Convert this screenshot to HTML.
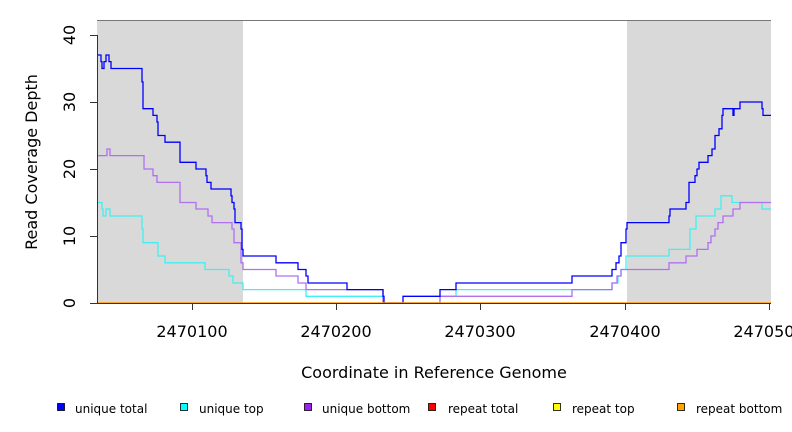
<!DOCTYPE html><html><head><style>body{margin:0;background:#fff}svg{display:block;font-family:"DejaVu Sans","Liberation Sans",sans-serif}</style></head><body>
<svg width="792" height="432" viewBox="0 0 792 432">
<rect x="97" y="20" width="146" height="283" fill="#d9d9d9"/>
<rect x="627" y="20" width="144" height="283" fill="#d9d9d9"/>
<line x1="97" y1="20.5" x2="771" y2="20.5" stroke="#777" stroke-width="1"/>
<g fill="none" stroke-width="1.3">
<polyline stroke="#40f0f0" points="97,202.5 102,202.5 102,209 103,209 103,216 106,216 106,209 110,209 110,216 142,216 142,229 143,229 143,242.7 158,242.7 158,256 165,256 165,262.8 205,262.8 205,269.5 229,269.5 229,276 233,276 233,283 243,283 243,289.6 306,289.6 306,296.3 383,296.3 383,303 440,303 440,296.3 456,296.3 456,289.6 612,289.6 612,283 618,283 618,276 621,276 621,269.5 626,269.5 626,256 669,256 669,249.4 690,249.4 690,229 696,229 696,216 715,216 715,209 721,209 721,195.8 732,195.8 732,202.5 762,202.5 762,209 771,209"/>
<polyline stroke="#b070f0" points="97,155.6 107,155.6 107,149 110,149 110,155.6 144,155.6 144,169 153,169 153,175.7 157,175.7 157,182.4 180,182.4 180,202.5 196,202.5 196,209 208,209 208,216 212,216 212,222.6 232,222.6 232,229 234,229 234,242.7 241,242.7 241,262.8 243,262.8 243,269.5 276,269.5 276,276 298,276 298,283 306,283 306,289.6 383,289.6 383,303 440,303 440,296.3 572,296.3 572,289.6 612,289.6 612,283 617,283 617,276 621,276 621,269.5 669,269.5 669,262.8 686,262.8 686,256 697,256 697,249.4 708,249.4 708,242.7 711,242.7 711,236 715,236 715,229 718,229 718,222.6 723,222.6 723,216 733,216 733,209 740,209 740,202.5 771,202.5"/>
<polyline stroke="#0000ff" points="97,55 101,55 101,61.6 102,61.6 102,68.5 104,68.5 104,61.6 106,61.6 106,55 109,55 109,61.6 111,61.6 111,68.5 142,68.5 142,81.9 143,81.9 143,108.7 153,108.7 153,115.4 157,115.4 157,122 158,122 158,135.5 165,135.5 165,142.2 180,142.2 180,162.3 196,162.3 196,169 206,169 206,175.7 207,175.7 207,182.4 211,182.4 211,189 231,189 231,195.8 232,195.8 232,202.5 234,202.5 234,209 235,209 235,222.6 241,222.6 241,229 242,229 242,249.4 243,249.4 243,256 276,256 276,262.8 298,262.8 298,269.5 306,269.5 306,276 308,276 308,283 347,283 347,289.6 383,289.6 383,296.3 384,296.3 384,303 403,303 403,296.3 440,296.3 440,289.6 456,289.6 456,283 572,283 572,276 612,276 612,269.5 616,269.5 616,262.8 619,262.8 619,256 621,256 621,242.7 626,242.7 626,229 627,229 627,222.6 669,222.6 669,216 670,216 670,209 686,209 686,202.5 689,202.5 689,182.4 695,182.4 695,175.7 697,175.7 697,169 699,169 699,162.3 708,162.3 708,155.6 712,155.6 712,149 715,149 715,135.5 719,135.5 719,128.8 722,128.8 722,115.4 723,115.4 723,108.7 733,108.7 733,115.4 734,115.4 734,108.7 740,108.7 740,102 762,102 762,108.7 763,108.7 763,115.4 771,115.4"/>
</g>
<line x1="97" y1="303" x2="771" y2="303" stroke="#ff9900" stroke-width="1.5"/>
<g stroke="#333" stroke-width="1">
<line x1="97.5" y1="35" x2="97.5" y2="303"/>
<line x1="90" y1="303.5" x2="97" y2="303.5"/><line x1="90" y1="236.5" x2="97" y2="236.5"/><line x1="90" y1="169.5" x2="97" y2="169.5"/><line x1="90" y1="102.5" x2="97" y2="102.5"/><line x1="90" y1="35.5" x2="97" y2="35.5"/>
<line x1="97" y1="303.5" x2="771" y2="303.5"/>
<line x1="192.5" y1="303" x2="192.5" y2="310"/><line x1="336.5" y1="303" x2="336.5" y2="310"/><line x1="480.5" y1="303" x2="480.5" y2="310"/><line x1="625.5" y1="303" x2="625.5" y2="310"/><line x1="769.5" y1="303" x2="769.5" y2="310"/>
</g>
<g font-size="16" fill="#000" text-anchor="middle">
<text transform="translate(75,303) rotate(-90)">0</text>
<text transform="translate(75,236) rotate(-90)">10</text>
<text transform="translate(75,169) rotate(-90)">20</text>
<text transform="translate(75,102) rotate(-90)">30</text>
<text transform="translate(75,35) rotate(-90)">40</text>
<text x="192" y="337">2470100</text><text x="336" y="337">2470200</text><text x="480" y="337">2470300</text><text x="625" y="337">2470400</text><text x="769" y="337">2470500</text>
<text x="434" y="378">Coordinate in Reference Genome</text>
<text transform="translate(37,162) rotate(-90)">Read Coverage Depth</text>
</g>
<g font-size="12" fill="#000" stroke="#000" stroke-width="0.8">
<rect x="57.5" y="403.5" width="7" height="7" fill="#0000ff"/><text x="75" y="413" stroke="none">unique total</text>
<rect x="180.5" y="403.5" width="7" height="7" fill="#00ffff"/><text x="199" y="413" stroke="none">unique top</text>
<rect x="304.5" y="403.5" width="7" height="7" fill="#a020f0"/><text x="322" y="413" stroke="none">unique bottom</text>
<rect x="428.5" y="403.5" width="7" height="7" fill="#ff0000"/><text x="448" y="413" stroke="none">repeat total</text>
<rect x="553.5" y="403.5" width="7" height="7" fill="#ffff00"/><text x="572" y="413" stroke="none">repeat top</text>
<rect x="677.5" y="403.5" width="7" height="7" fill="#ffa500"/><text x="696" y="413" stroke="none">repeat bottom</text>
</g>
</svg></body></html>
